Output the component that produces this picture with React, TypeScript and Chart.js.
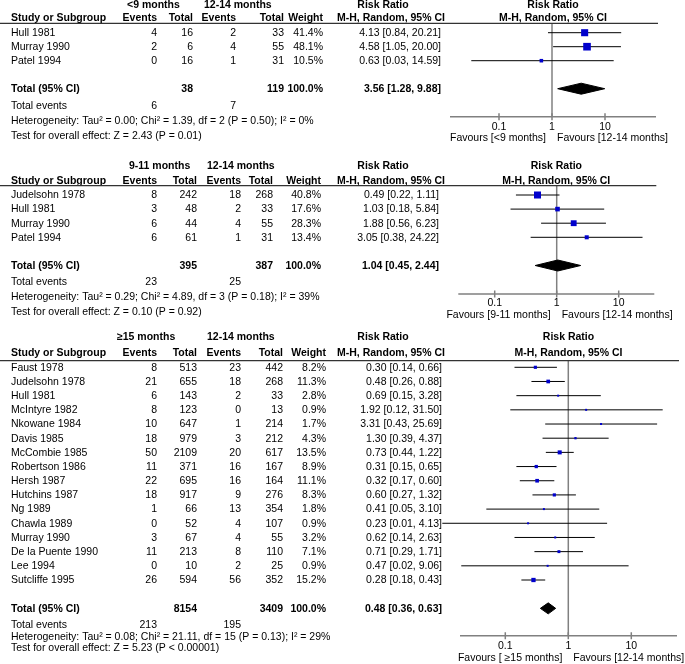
import React, { useEffect, useRef } from 'react';
import { Chart, registerables } from 'chart.js';

Chart.register(...registerables);

// ---------- Data: panel 1 (<9 months vs 12-14 months) ----------
const studies1 = ['Hull 1981', 'Murray 1990', 'Patel 1994'];
const eventsA1 = [4, 2, 0];
const totalA1 = [16, 6, 16];
const eventsB1 = [2, 4, 1];
const totalB1 = [33, 55, 31];
const weights1 = [41.4, 48.1, 10.5];
const rr1 = [4.13, 4.58, 0.63];
const lo1 = [0.84, 1.05, 0.03];
const hi1 = [20.21, 20.0, 14.59];
const pooled1 = [3.56, 1.28, 9.88];
const sums1 = [38, 119, 6, 7];
const het1 = 'Heterogeneity: Tau² = 0.00; Chi² = 1.39, df = 2 (P = 0.50); I² = 0%';
const test1 = 'Test for overall effect: Z = 2.43 (P = 0.01)';

// ---------- Data: panel 2 (9-11 months vs 12-14 months) ----------
const studies2 = ['Judelsohn 1978', 'Hull 1981', 'Murray 1990', 'Patel 1994'];
const eventsA2 = [8, 3, 6, 6];
const totalA2 = [242, 48, 44, 61];
const eventsB2 = [18, 2, 4, 1];
const totalB2 = [268, 33, 55, 31];
const weights2 = [40.8, 17.6, 28.3, 13.4];
const rr2 = [0.49, 1.03, 1.88, 3.05];
const lo2 = [0.22, 0.18, 0.56, 0.38];
const hi2 = [1.11, 5.84, 6.23, 24.22];
const pooled2 = [1.04, 0.45, 2.44];
const sums2 = [395, 387, 23, 25];
const het2 = 'Heterogeneity: Tau² = 0.29; Chi² = 4.89, df = 3 (P = 0.18); I² = 39%';
const test2 = 'Test for overall effect: Z = 0.10 (P = 0.92)';

// ---------- Data: panel 3 (>=15 months vs 12-14 months) ----------
const studies3 = ['Faust 1978', 'Judelsohn 1978', 'Hull 1981', 'McIntyre 1982', 'Nkowane 1984', 'Davis 1985', 'McCombie 1985', 'Robertson 1986', 'Hersh 1987', 'Hutchins 1987', 'Ng 1989', 'Chawla 1989', 'Murray 1990', 'De la Puente 1990', 'Lee 1994', 'Sutcliffe 1995'];
const eventsA3 = [8, 21, 6, 8, 10, 18, 50, 11, 22, 18, 1, 0, 3, 11, 0, 26];
const totalA3 = [513, 655, 143, 123, 647, 979, 2109, 371, 695, 917, 66, 52, 67, 213, 10, 594];
const eventsB3 = [23, 18, 2, 0, 1, 3, 20, 16, 16, 9, 13, 4, 4, 8, 2, 56];
const totalB3 = [442, 268, 33, 13, 214, 212, 617, 167, 164, 276, 354, 107, 55, 110, 25, 352];
const weights3 = [8.2, 11.3, 2.8, 0.9, 1.7, 4.3, 13.5, 8.9, 11.1, 8.3, 1.8, 0.9, 3.2, 7.1, 0.9, 15.2];
const rr3 = [0.30, 0.48, 0.69, 1.92, 3.31, 1.30, 0.73, 0.31, 0.32, 0.60, 0.41, 0.23, 0.62, 0.71, 0.47, 0.28];
const lo3 = [0.14, 0.26, 0.15, 0.12, 0.43, 0.39, 0.44, 0.15, 0.17, 0.27, 0.05, 0.01, 0.14, 0.29, 0.02, 0.18];
const hi3 = [0.66, 0.88, 3.28, 31.50, 25.69, 4.37, 1.22, 0.65, 0.60, 1.32, 3.10, 4.13, 2.63, 1.71, 9.06, 0.43];
const pooled3 = [0.48, 0.36, 0.63];
const sums3 = [8154, 3409, 213, 195];
const het3 = 'Heterogeneity: Tau² = 0.08; Chi² = 21.11, df = 15 (P = 0.13); I² = 29%';
const test3 = 'Test for overall effect: Z = 5.23 (P < 0.00001)';

// ---------- Shared labels ----------
const groupLabels = ['<9 months', '9-11 months', '≥15 months'];
const favourLeftLabels = ['Favours [<9 months]', 'Favours [9-11 months]', 'Favours [ ≥15 months]'];
const refGroupLabel = '12-14 months';
const favourRightLabel = 'Favours [12-14 months]';
const columnHeaders = ['Events', 'Total', 'Events', 'Total', 'Weight'];
const axisTicks = [0.1, 1, 10];
const axisTickLabels = ['0.1', '1', '10'];

const panels = [
  { studies: studies1, eA: eventsA1, tA: totalA1, eB: eventsB1, tB: totalB1, w: weights1, rr: rr1, lo: lo1, hi: hi1, pooled: pooled1, sums: sums1, het: het1, test: test1 },
  { studies: studies2, eA: eventsA2, tA: totalA2, eB: eventsB2, tB: totalB2, w: weights2, rr: rr2, lo: lo2, hi: hi2, pooled: pooled2, sums: sums2, het: het2, test: test2 },
  { studies: studies3, eA: eventsA3, tA: totalA3, eB: eventsB3, tB: totalB3, w: weights3, rr: rr3, lo: lo3, hi: hi3, pooled: pooled3, sums: sums3, het: het3, test: test3 },
];

// ---------- Layout (page pixel coordinates) ----------
const layouts = [
  { top: 0, height: 150, grpY: 5, colY: 18.3, lineY: 23.3, row0: 32.7, rowH: 14, evY: 106, hetY: 120.7, testY: 135.7, axisY: 116.7, tickY: 126.7, favY: 138, axisL: 450, axisR: 656, x1: 552, decade: 53, cols: [157, 193, 236, 284, 323], grpX: [127, 204], rrRight: 441 },
  { top: 150, height: 176, grpY: 166, colY: 180.7, lineY: 185.7, row0: 195, rowH: 14.1, evY: 281.7, hetY: 297.3, testY: 311.7, axisY: 294, tickY: 303.3, favY: 315, axisL: 458.3, axisR: 654.3, x1: 556.7, decade: 62, cols: [157, 197, 241, 273, 321], grpX: [129, 207], rrRight: 439 },
  { top: 326, height: 338, grpY: 336.7, colY: 353.3, lineY: 360.7, row0: 367.3, rowH: 14.18, evY: 625, hetY: 637.3, testY: 648.3, axisY: 635.7, tickY: 645.7, favY: 657.7, axisL: 460, axisR: 677, x1: 568.3, decade: 63, cols: [157, 197, 241, 283, 326], grpX: [117, 207], rrRight: 442 },
];

const FONT_FAMILY = '"Liberation Sans", Arial, Helvetica, sans-serif';
const FONT = `10.5px ${FONT_FAMILY}`;
const BOLD = `bold 10.5px ${FONT_FAMILY}`;
const WIDTH = 685;
const LABEL_X = 11;
const RR_HEADER_X = 383;
const MH_HEADER_X = 391;
const DIAMOND_HALF = 5.5;
const SQUARE_K = 1.1;
const SQUARE_MIN = 2;
const BLUE = '#0000CC';

const fmtRR = (r: number, l: number, h: number) => `${r.toFixed(2)} [${l.toFixed(2)}, ${h.toFixed(2)}]`;

function ForestPanel({ idx }: { idx: number }) {
  const ref = useRef<HTMLCanvasElement>(null);
  const L = layouts[idx];
  useEffect(() => {
    const P = panels[idx];
    const off = L.top;
    const n = P.studies.length;
    const xmin = Math.pow(10, (L.axisL - L.x1) / L.decade);
    const xmax = Math.pow(10, (L.axisR - L.x1) / L.decade);
    const yMin = (L.lineY - L.row0) / L.rowH;
    const yMax = (L.axisY - L.row0) / L.rowH;
    const totalRow = n + 1;
    const dh = DIAMOND_HALF / L.rowH;

    const datasets: any[] = [];
    P.studies.forEach((_, i) => {
      datasets.push({
        type: 'line',
        data: [{ x: P.lo[i], y: i }, { x: P.hi[i], y: i }],
        borderColor: '#000',
        borderWidth: 1,
        pointRadius: 0,
        fill: false,
        clip: false,
        order: 3,
      });
    });
    datasets.push({
      type: 'scatter',
      data: P.rr.map((v, i) => ({ x: v, y: i })),
      pointStyle: 'rect',
      pointRadius: P.w.map((w) => Math.max(SQUARE_MIN, SQUARE_K * Math.sqrt(w)) / Math.SQRT2),
      backgroundColor: BLUE,
      borderColor: BLUE,
      borderWidth: 0,
      clip: false,
      order: 1,
    });
    datasets.push({
      type: 'line',
      data: [
        { x: P.pooled[1], y: totalRow },
        { x: P.pooled[0], y: totalRow - dh },
        { x: P.pooled[2], y: totalRow },
        { x: P.pooled[0], y: totalRow + dh },
        { x: P.pooled[1], y: totalRow },
      ],
      borderColor: '#000',
      backgroundColor: '#000',
      borderWidth: 1,
      pointRadius: 0,
      fill: 'shape',
      tension: 0,
      clip: false,
      order: 2,
    });

    const text = (ctx: CanvasRenderingContext2D, s: string, x: number, y: number, align: CanvasTextAlign, bold = false) => {
      ctx.font = bold ? BOLD : FONT;
      ctx.textAlign = align;
      ctx.textBaseline = 'middle';
      ctx.fillStyle = '#000';
      ctx.fillText(s, x, y);
    };

    const forestPlugin = {
      id: 'forestDecor' + idx,
      beforeDatasetsDraw(chart: any) {
        const ctx = chart.ctx as CanvasRenderingContext2D;
        const ca = chart.chartArea;
        const xs = chart.scales.x;
        const px1 = xs.getPixelForValue(1);
        ctx.save();
        ctx.strokeStyle = '#808080';
        ctx.lineWidth = 1.5;
        ctx.beginPath();
        ctx.moveTo(px1, ca.top);
        ctx.lineTo(px1, ca.bottom);
        ctx.stroke();
        ctx.restore();
      },
      afterDraw(chart: any) {
        const ctx = chart.ctx as CanvasRenderingContext2D;
        const ca = chart.chartArea;
        const xs = chart.scales.x;
        const ys = chart.scales.y;
        const cx = (ca.left + ca.right) / 2;
        ctx.save();
        // headers
        text(ctx, groupLabels[idx], L.grpX[0], L.grpY - off, 'left', true);
        text(ctx, refGroupLabel, L.grpX[1], L.grpY - off, 'left', true);
        text(ctx, 'Risk Ratio', RR_HEADER_X, L.grpY - off, 'center', true);
        text(ctx, 'Risk Ratio', cx, L.grpY - off, 'center', true);
        text(ctx, 'Study or Subgroup', LABEL_X, L.colY - off, 'left', true);
        columnHeaders.forEach((h, k) => text(ctx, h, L.cols[k], L.colY - off, 'right', true));
        text(ctx, 'M-H, Random, 95% CI', MH_HEADER_X, L.colY - off, 'center', true);
        text(ctx, 'M-H, Random, 95% CI', cx, L.colY - off, 'center', true);
        // header rule
        ctx.strokeStyle = '#333';
        ctx.lineWidth = 1.3;
        ctx.beginPath();
        ctx.moveTo(0, ca.top);
        ctx.lineTo(ca.right + 2, ca.top);
        ctx.stroke();
        // study rows
        P.studies.forEach((s, i) => {
          const y = ys.getPixelForValue(i) + 0.5;
          text(ctx, s, LABEL_X, y, 'left');
          text(ctx, String(P.eA[i]), L.cols[0], y, 'right');
          text(ctx, String(P.tA[i]), L.cols[1], y, 'right');
          text(ctx, String(P.eB[i]), L.cols[2], y, 'right');
          text(ctx, String(P.tB[i]), L.cols[3], y, 'right');
          text(ctx, P.w[i].toFixed(1) + '%', L.cols[4], y, 'right');
          text(ctx, fmtRR(P.rr[i], P.lo[i], P.hi[i]), L.rrRight, y, 'right');
        });
        // total row
        const ty = ys.getPixelForValue(totalRow) + 0.5;
        text(ctx, 'Total (95% CI)', LABEL_X, ty, 'left', true);
        text(ctx, String(P.sums[0]), L.cols[1], ty, 'right', true);
        text(ctx, String(P.sums[1]), L.cols[3], ty, 'right', true);
        text(ctx, '100.0%', L.cols[4], ty, 'right', true);
        text(ctx, fmtRR(P.pooled[0], P.pooled[1], P.pooled[2]), L.rrRight, ty, 'right', true);
        // footer
        text(ctx, 'Total events', LABEL_X, L.evY - off, 'left');
        text(ctx, String(P.sums[2]), L.cols[0], L.evY - off, 'right');
        text(ctx, String(P.sums[3]), L.cols[2], L.evY - off, 'right');
        text(ctx, P.het, LABEL_X, L.hetY - off, 'left');
        text(ctx, P.test, LABEL_X, L.testY - off, 'left');
        // axis
        ctx.strokeStyle = '#808080';
        ctx.lineWidth = 1.5;
        ctx.beginPath();
        ctx.moveTo(ca.left, ca.bottom);
        ctx.lineTo(ca.right, ca.bottom);
        axisTicks.forEach((t) => {
          const x = xs.getPixelForValue(t);
          ctx.moveTo(x, ca.bottom - 3.5);
          ctx.lineTo(x, ca.bottom + 3.5);
        });
        ctx.stroke();
        axisTicks.forEach((t, k) => text(ctx, axisTickLabels[k], xs.getPixelForValue(t), L.tickY - off, 'center'));
        const px1 = xs.getPixelForValue(1);
        text(ctx, favourLeftLabels[idx], px1 - 6, L.favY - off, 'right');
        text(ctx, favourRightLabel, px1 + 5, L.favY - off, 'left');
        ctx.restore();
      },
    };

    const chart = new Chart(ref.current as HTMLCanvasElement, {
      type: 'scatter',
      data: { datasets },
      options: {
        animation: false,
        responsive: false,
        events: [],
        layout: {
          padding: {
            left: L.axisL,
            right: WIDTH - L.axisR,
            top: L.lineY - off,
            bottom: off + L.height - L.axisY,
          },
        },
        plugins: { legend: { display: false }, tooltip: { enabled: false } },
        scales: {
          x: { type: 'logarithmic', display: false, min: xmin, max: xmax },
          y: { type: 'linear', display: false, min: yMin, max: yMax, reverse: true },
        },
      } as any,
      plugins: [forestPlugin],
    });
    return () => chart.destroy();
  }, [idx]);
  return <canvas ref={ref} width={WIDTH} height={L.height} style={{ display: 'block', width: WIDTH, height: L.height }} />;
}

export default function App() {
  return (
    <div style={{ position: 'absolute', left: 0, top: 0, width: WIDTH, height: 664, background: '#fff' }}>
      {layouts.map((_, i) => (
        <ForestPanel key={i} idx={i} />
      ))}
    </div>
  );
}
